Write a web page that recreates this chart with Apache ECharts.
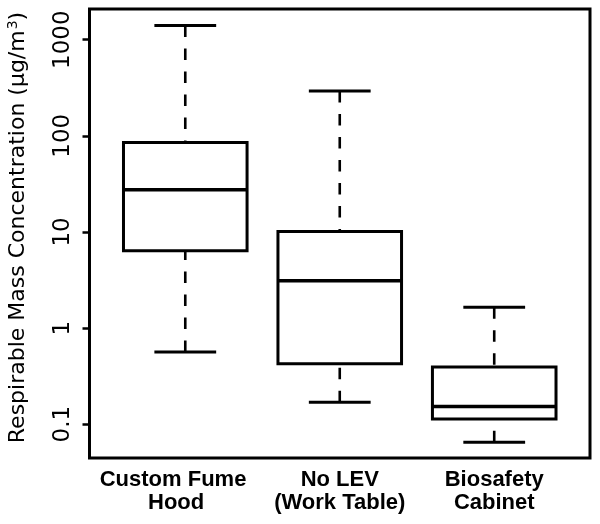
<!DOCTYPE html>
<html><head><meta charset="utf-8">
<script src="https://cdn.jsdelivr.net/npm/echarts@6/dist/echarts.min.js"></script>
<style>html,body{margin:0;padding:0;background:#fff}#c{width:600px;height:524px}</style>
</head><body><div id="c"></div>
<script>
const categories = ['Custom Fume\nHood', 'No LEV\n(Work Table)', 'Biosafety\nCabinet'];
const minValues = [0.563, 0.169, 0.0647];
const q1Values = [6.36, 0.425, 0.113];
const medianValues = [27.4, 3.1, 0.153];
const q3Values = [85, 10.1, 0.393];
const maxValues = [1400, 293, 1.65];
const yTicks = [0.1, 1, 10, 100, 1000];
const yTickLabels = ['0.1', '1', '10', '100', '1000'];
const yTitle = 'Respirable Mass Concentration (µg/m{sup|3})';

const boxData = categories.map((c, i) => [i + 1, minValues[i], q1Values[i], medianValues[i], q3Values[i], maxValues[i]]);
const labelShift = ['    ', '', ''];
const labelShift2 = ['   ', '', ''];

const chart = echarts.init(document.getElementById('c'), null, {renderer: 'canvas'});
chart.setOption({
  animation: false,
  backgroundColor: '#fff',
  grid: {left: 89.5, right: 10, top: 9, bottom: 66, show: true, borderColor: '#000', borderWidth: 3, backgroundColor: 'transparent', containLabel: false, outerBoundsMode: 'none'},
  xAxis: {
    type: 'value', min: 0.38, max: 3.62,
    axisLine: {show: false}, axisTick: {show: false}, splitLine: {show: false},
    axisLabel: {
      customValues: [1, 2, 3],
      margin: 10,
      fontFamily: 'Liberation Sans', fontWeight: 'bold', fontSize: 22, lineHeight: 23.5, color: '#000',
      formatter: function (v) {
        const i = Math.round(v) - 1;
        const parts = categories[i].split('\n');
        return parts[0] + labelShift[i] + '\n' + parts[1] + labelShift2[i];
      }
    }
  },
  yAxis: {
    type: 'log', logBase: 10, min: 0.0445, max: 2084,
    name: yTitle, nameLocation: 'middle', nameGap: 59, nameRotate: 90,
    nameTextStyle: {
      fontFamily: 'DejaVu Sans', fontSize: 22, color: '#000', padding: [0, 0, 0, 12], lineHeight: 24,
      rich: {sup: {fontFamily: 'DejaVu Sans', fontSize: 14, color: '#000', verticalAlign: 'top', lineHeight: 24, padding: [0, 0, 10, 1]}}
    },
    axisLine: {show: false},
    splitLine: {show: false},
    axisTick: {show: true, customValues: yTicks, length: 7, lineStyle: {color: '#000', width: 2.5}},
    axisLabel: {
      customValues: yTicks, rotate: 90, margin: 15,
      fontFamily: 'DejaVu Sans', fontSize: 23, color: '#000',
      formatter: function (v) {
        const idx = yTicks.findIndex(t => Math.abs(Math.log10(t) - Math.log10(v)) < 1e-6);
        return idx >= 0 ? yTickLabels[idx] : '';
      }
    }
  },
  series: [{
    type: 'custom',
    data: boxData,
    encode: {x: 0, y: [1, 2, 3, 4, 5]},
    clip: false,
    renderItem: function (params, api) {
      const x = api.value(0);
      const vMin = api.value(1), vQ1 = api.value(2), vMed = api.value(3), vQ3 = api.value(4), vMax = api.value(5);
      const hw = 0.4, cw = 0.2;
      const xc = api.coord([x, vMed])[0];
      const xl = api.coord([x - hw, vMed])[0], xr = api.coord([x + hw, vMed])[0];
      const cl = api.coord([x - cw, vMed])[0], cr = api.coord([x + cw, vMed])[0];
      const yMin = api.coord([x, vMin])[1], yQ1 = api.coord([x, vQ1])[1], yMed = api.coord([x, vMed])[1];
      const yQ3 = api.coord([x, vQ3])[1], yMax = api.coord([x, vMax])[1];
      const dashed = {stroke: '#000', lineWidth: 2.6, lineDash: [11.5, 11.5], fill: null};
      const solid = {stroke: '#000', lineWidth: 3, fill: null};
      return {
        type: 'group',
        children: [
          {type: 'line', shape: {x1: xc, y1: yMax, x2: xc, y2: yQ3}, style: dashed},
          {type: 'line', shape: {x1: xc, y1: yMin, x2: xc, y2: yQ1}, style: dashed},
          {type: 'line', shape: {x1: cl, y1: yMax, x2: cr, y2: yMax}, style: solid},
          {type: 'line', shape: {x1: cl, y1: yMin, x2: cr, y2: yMin}, style: solid},
          {type: 'rect', shape: {x: xl, y: yQ3, width: xr - xl, height: yQ1 - yQ3}, style: {fill: '#fff', stroke: '#000', lineWidth: 3}},
          {type: 'line', shape: {x1: xl, y1: yMed, x2: xr, y2: yMed}, style: {stroke: '#000', lineWidth: 3.5}}
        ]
      };
    }
  }]
});
</script>
</body></html>
